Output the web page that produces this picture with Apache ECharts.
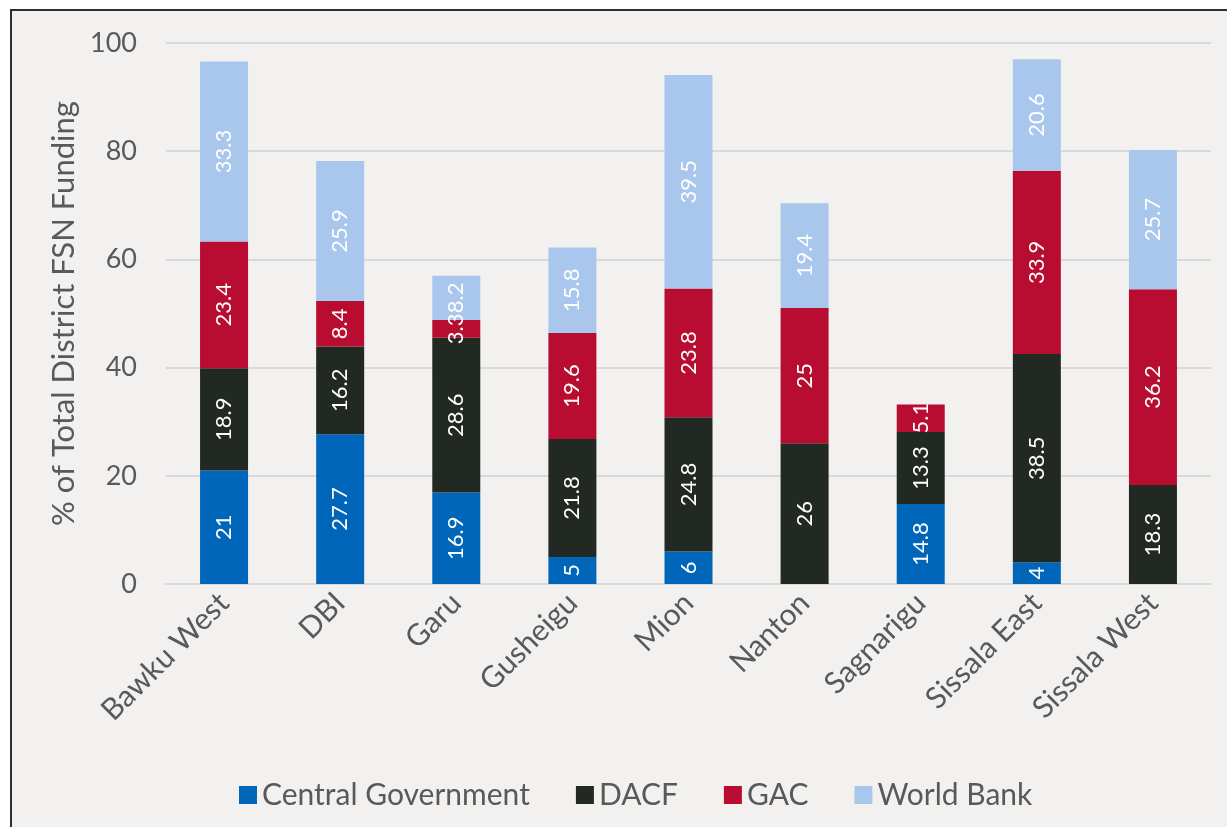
<!DOCTYPE html>
<html>
<head>
<meta charset="utf-8">
<script src="https://cdn.jsdelivr.net/npm/echarts@6/dist/echarts.min.js"></script>
<style>
  html, body { margin: 0; padding: 0; background: #ffffff; }
  #frame {
    position: absolute; left: 10px; top: 9px; width: 1300px; height: 900px;
    background: #F2F1F0; border: 2px solid #2B302B;
  }
  #chart { position: absolute; left: 0; top: 0; width: 1227px; height: 827px; }
</style>
</head>
<body>
<div id="frame"></div>
<div id="chart"></div>
<script>
// District funding shares (% of total FSN funding) by source
const districts = ['Bawku West', 'DBI', 'Garu', 'Gusheigu', 'Mion', 'Nanton', 'Sagnarigu', 'Sissala East', 'Sissala West'];
const centralGovernment = [21, 27.7, 16.9, 5, 6, '-', 14.8, 4, '-'];
const dacf = [18.9, 16.2, 28.6, 21.8, 24.8, 26, 13.3, 38.5, 18.3];
const gac = [23.4, 8.4, 3.3, 19.6, 23.8, 25, 5.1, 33.9, 36.2];
const worldBank = [33.3, 25.9, 8.2, 15.8, 39.5, 19.4, '-', 20.6, 25.7];
const yTicks = { min: 0, max: 100, interval: 20 };

const FONT = 'Lato';
const GREY = '#595959';

function stackSeries(name, data, color) {
  return {
    name: name,
    type: 'bar',
    stack: 'total',
    data: data,
    barWidth: 48,
    itemStyle: { color: color },
    label: {
      show: true,
      position: 'inside',
      rotate: 90,
      color: '#ffffff',
      fontFamily: FONT,
      fontSize: 22
    }
  };
}

const chart = echarts.init(document.getElementById('chart'), null, { renderer: 'canvas' });
chart.setOption({
  backgroundColor: 'transparent',
  animation: false,
  textStyle: { fontFamily: FONT },
  grid: { left: 166, right: 16, top: 43, bottom: 243 },
  legend: {
    top: 775,
    left: 234,
    itemWidth: 18,
    itemHeight: 18,
    itemGap: 46,
    icon: 'rect',
    textStyle: { fontFamily: FONT, fontSize: 30, color: GREY },
    data: ['Central Government', 'DACF', 'GAC', 'World Bank']
  },
  xAxis: {
    type: 'category',
    data: districts,
    axisLine: { lineStyle: { color: '#D9D9D9', width: 2 } },
    axisTick: { show: false },
    axisLabel: {
      rotate: 45,
      margin: 14,
      fontFamily: FONT,
      fontSize: 30,
      color: GREY,
      interval: 0
    }
  },
  yAxis: {
    type: 'value',
    min: yTicks.min,
    max: yTicks.max,
    interval: yTicks.interval,
    name: '% of Total District FSN Funding',
    nameLocation: 'middle',
    nameGap: 86,
    nameTextStyle: { fontFamily: FONT, fontSize: 31, color: GREY },
    axisLine: { show: false },
    axisTick: { show: false },
    axisLabel: { margin: 29, fontFamily: FONT, fontSize: 27, color: GREY },
    splitLine: { lineStyle: { color: '#D9D9D9', width: 2 } }
  },
  series: [
    stackSeries('Central Government', centralGovernment, '#0066BA'),
    stackSeries('DACF', dacf, '#222822'),
    stackSeries('GAC', gac, '#B80C30'),
    stackSeries('World Bank', worldBank, '#A9C7EC')
  ]
});
</script>
</body>
</html>
